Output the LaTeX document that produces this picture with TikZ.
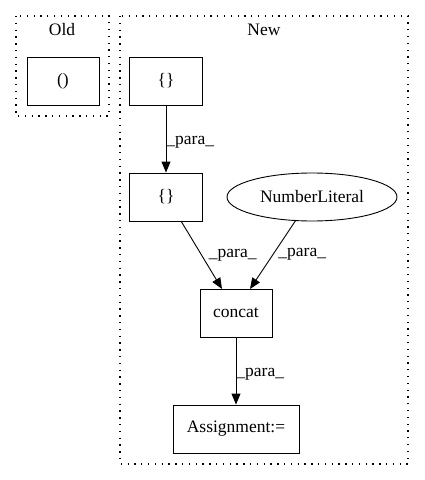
\documentclass[tikz,border=0pt]{standalone}
\usepackage{fontspec}
\setmainfont{Liberation Serif}
\usetikzlibrary{arrows.meta, shapes.geometric}

\begin{document}
\begin{tikzpicture}[
			x=1pt, y=-1pt,
			every node/.style={font=\fontsize{17.5}{20}\selectfont},
			cluster/.style={draw, line width=1.3pt, dash pattern=on 1.3pt off 5.5pt},
			box/.style={
					draw,
					line width=0.9pt,
					minimum height=48pt,
					inner sep=0pt
				},
			oval/.style={
					draw,
					ellipse,
					line width=0.9pt,
					minimum width=170pt,
					minimum height=48pt,
					inner sep=0pt
				},
			edge/.style={draw, line width=0.9pt, -{Triangle[length=11pt, width=9pt]}},
			lbl/.style={inner sep=1pt}
		]
		\useasboundingbox (0,0) rectangle (424,480);
		% clusters
		\draw[cluster] (16,16) rectangle (109,116);
		\node (oldtitle) at (62,30) {Old};
		\draw[cluster] (120,16) rectangle (408,464);
		\node (newtitle) at (264,30) {New};
		% nodes
		\node[box, minimum width=72pt] (paren) at (63,81) {()};
		\node[box, minimum width=73pt] (braceA) at (166,81) {\{\}};
		\node[box, minimum width=73pt] (braceB) at (166,197) {\{\}};
		\node[oval] (numlit) at (312,197) {NumberLiteral};
		\node[box, minimum width=72pt] (concat) at (236,313) {concat};
		\node[box, minimum width=126pt] (assign) at (236,429) {Assignment:=};
		% edge end points
		\coordinate (bB) at (181,221);
		\coordinate (nL) at (296,220);
		\coordinate (cL) at (222,289);
		\coordinate (cR) at (250,289);
		% edges
		\draw[edge] (braceA) -- (braceB) node[lbl, pos=0.55, right, xshift=-1pt] {\_para\_};
		\draw[edge] (bB) -- (cL) node[lbl, pos=0.5, right, xshift=6pt] {\_para\_};
		\draw[edge] (nL) -- (cR) node[lbl, pos=0.5, right, xshift=4pt] {\_para\_};
		\draw[edge] (concat) -- (assign) node[lbl, pos=0.55, right, xshift=-1pt] {\_para\_};
	\end{tikzpicture}
\end{document}
